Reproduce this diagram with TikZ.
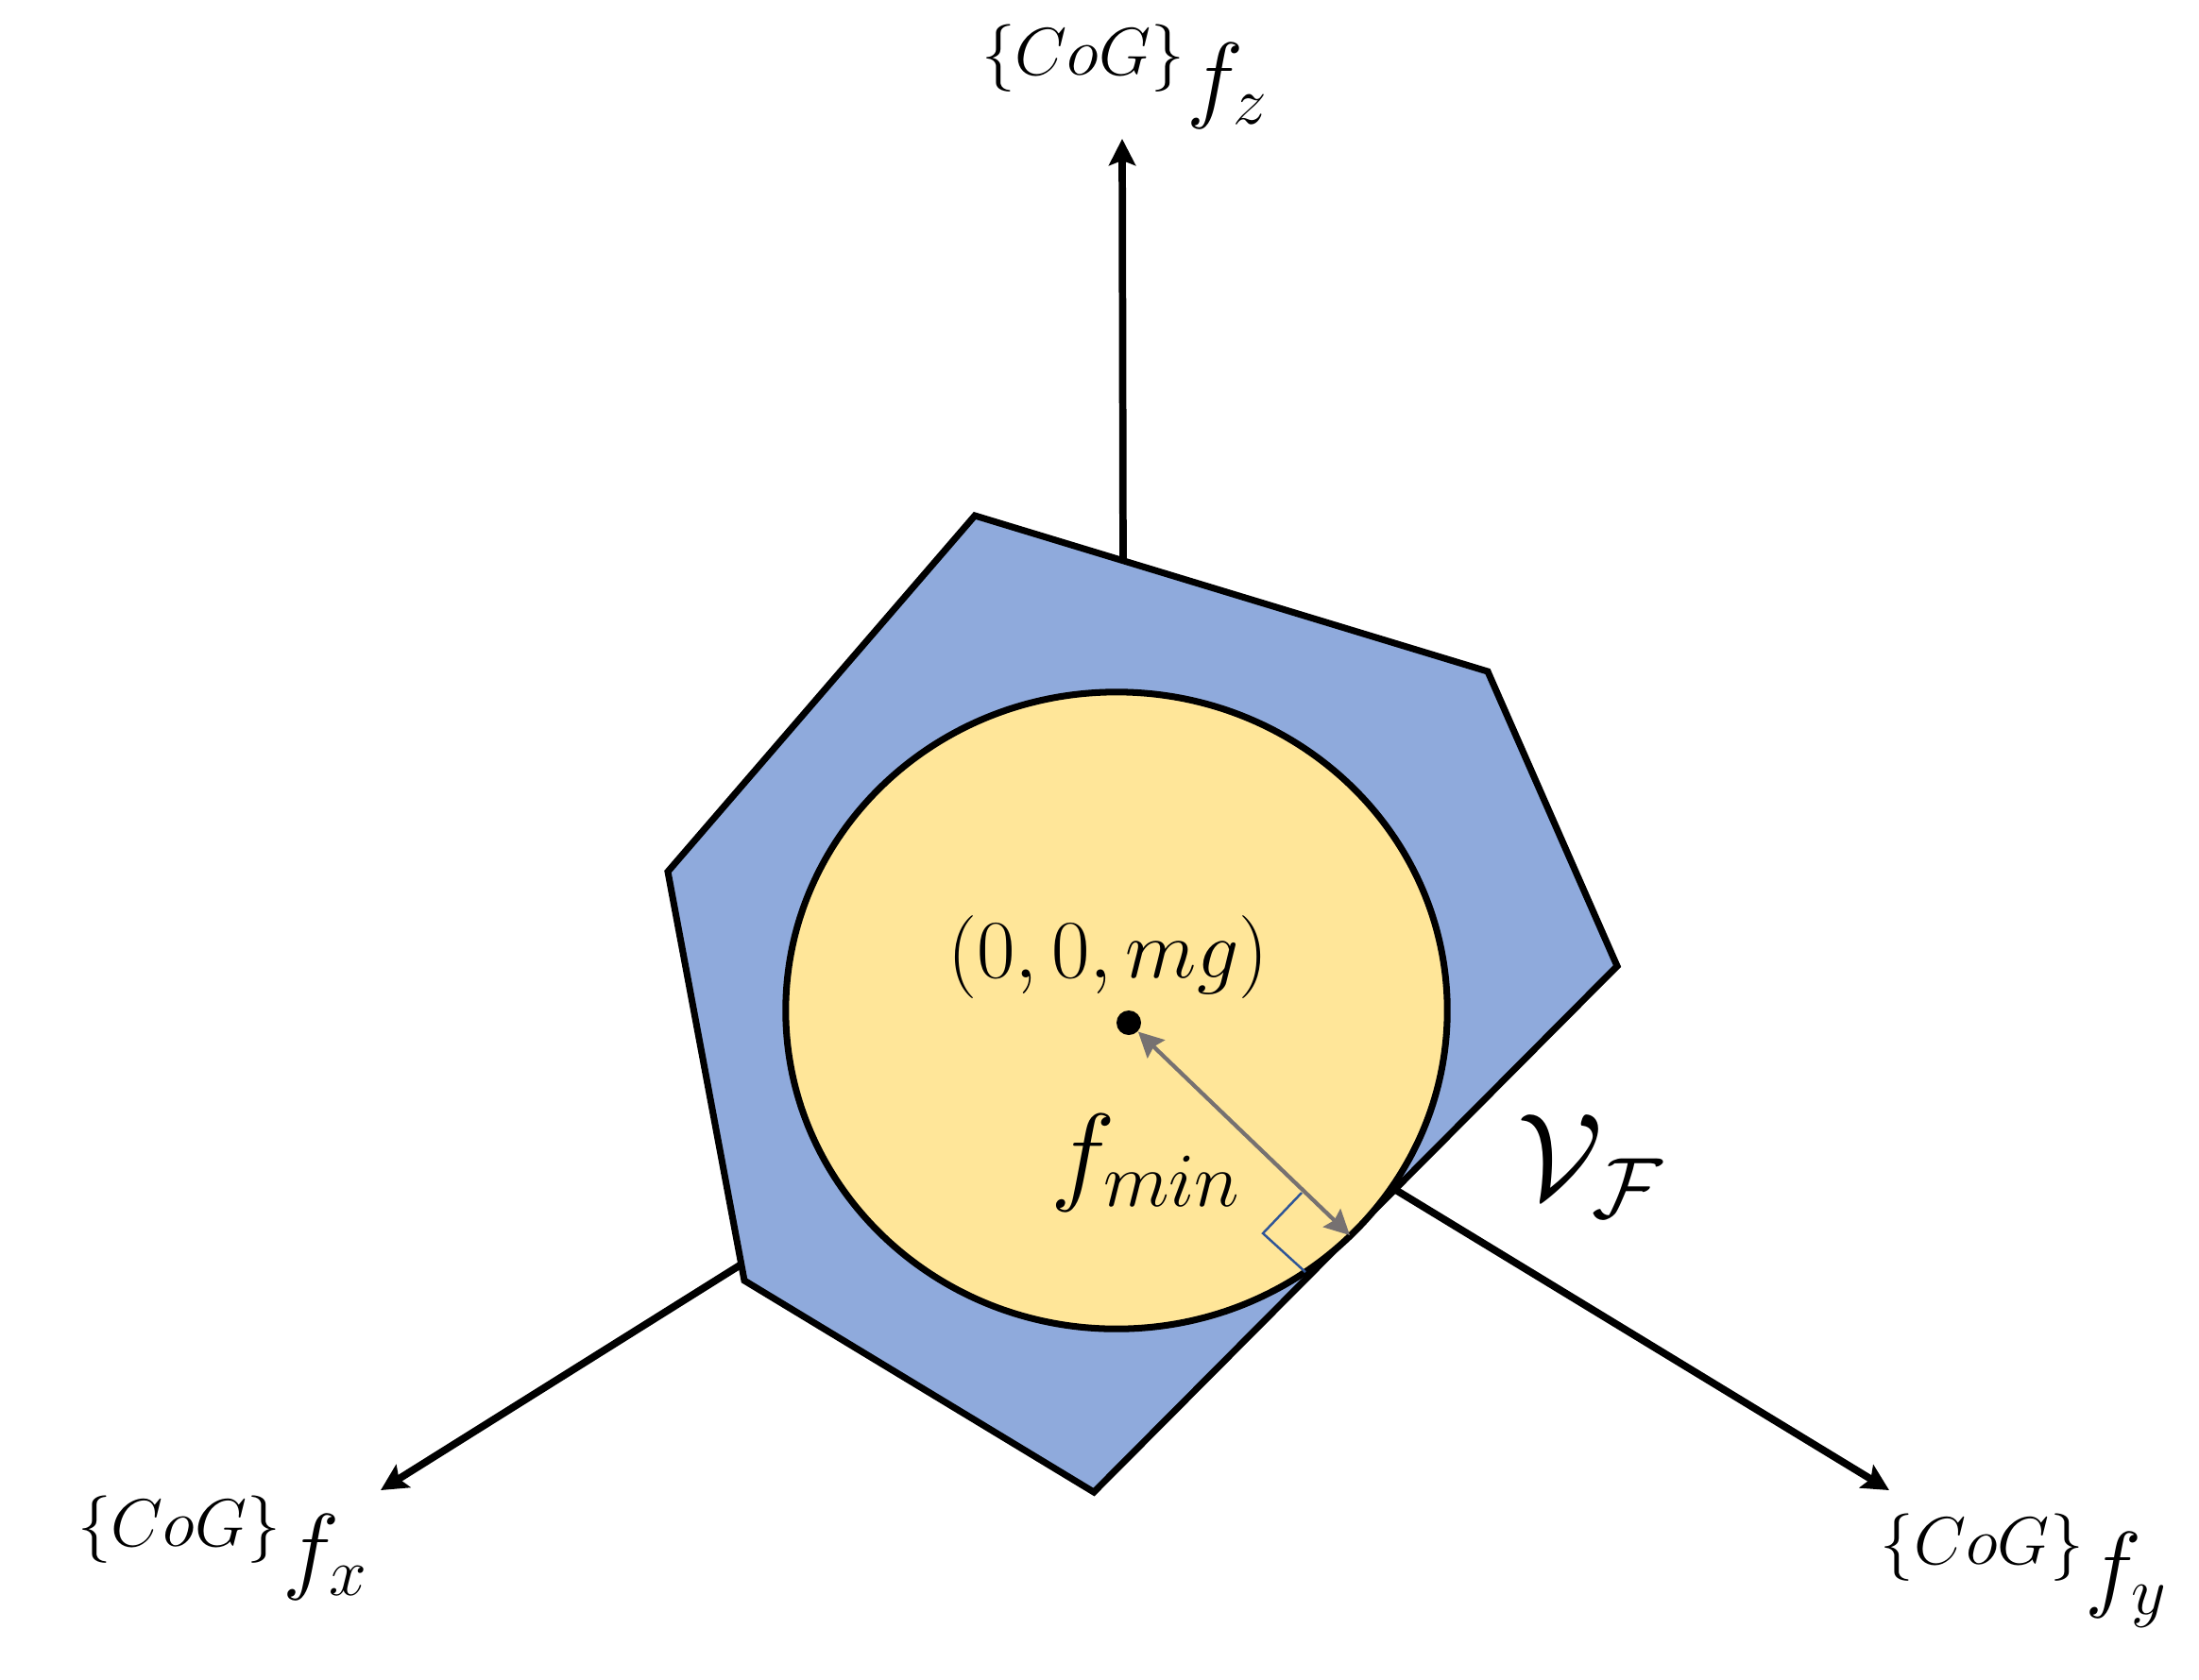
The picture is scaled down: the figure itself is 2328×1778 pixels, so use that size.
\RequirePackage{fix-cm}
\documentclass[tikz,border=0pt]{standalone}
\usepackage{amssymb,amsmath}
\usetikzlibrary{arrows.meta}
\definecolor{hullblue}{HTML}{8FAADC}
\definecolor{discyellow}{HTML}{FFE699}
\definecolor{radgray}{HTML}{767171}
\definecolor{markblue}{HTML}{2F5597}
\newcommand{\cogf}[1]{{}^{\{CoG\}}f_{#1}}

\begin{document}
\begin{tikzpicture}[x=0.01cm,y=-0.01cm,>={Stealth[length=8pt,width=8pt,inset=1.5pt]},
        axis/.style={->,line width=2.2pt},
        lbl/.style={inner sep=0pt,font=\fontsize{29}{34}\selectfont},
        inlbl/.style={inner sep=0pt,font=\fontsize{25}{30}\selectfont}]
        \useasboundingbox (0,0) rectangle (2328,1778);
        \coordinate (o) at (1190,1085);
        \coordinate (zt) at (1188,147);
        \coordinate (xt) at (403,1578);
        \coordinate (yt) at (2000,1578);
        \coordinate (tan) at (1429,1308);
        \draw[axis] (o) -- (zt);
        \draw[axis] (o) -- (xt);
        \draw[axis] (o) -- (yt);
        \filldraw[fill=hullblue,line width=2pt,line join=miter] (1032,546) -- (1575,711) -- (1712,1023)
                -- (1158,1580) -- (788,1356) -- (707,923) -- cycle;
        \filldraw[fill=discyellow,line width=2pt] (1182,1070) ellipse [x radius=3.5cm,y radius=3.37cm];
        \node[circle,fill,inner sep=0pt,minimum size=0.26cm] (dot) at (1195,1083) {};
        \draw[<->,radgray,line width=1.2pt,>={Stealth[length=7.5pt,width=7.5pt,inset=1pt]}] (dot) -- (tan);
        \draw[markblue,line width=0.7pt] (1378,1263) -- (1337,1306) -- (1382,1347);
        \node[inlbl] (pt) at (1173,1013) {$(0,0,mg)$};
        \node[inlbl,font=\fontsize{33}{38}\selectfont] (fmin) at (1213,1231) {$f_{min}$};
        \node[inlbl,font=\fontsize{37}{44}\selectfont] (vf) at (1684,1235) {$\mathcal{V}_{\mathcal{F}}$};
        \node[lbl] (fz) at (1191,81) {$\cogf{z}$};
        \node[lbl] (fx) at (236,1639) {$\cogf{x}$};
        \node[lbl] (fy) at (2143,1663) {$\cogf{y}$};
\end{tikzpicture}
\end{document}
